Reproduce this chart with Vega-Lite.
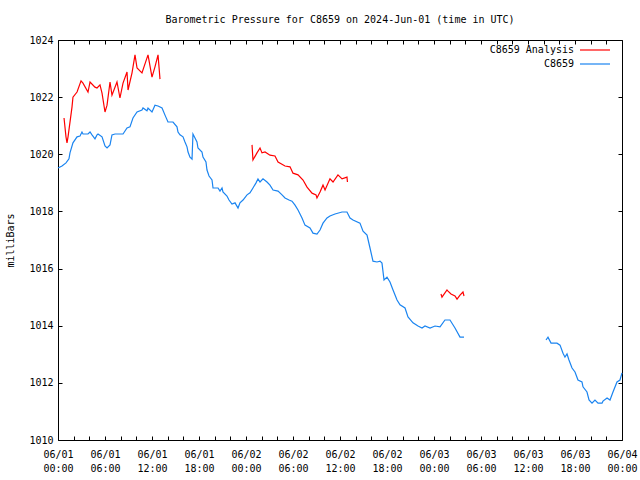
{
  "$schema": "https://vega.github.io/schema/vega-lite/v6.json",
  "width": 564,
  "height": 400,
  "autosize": "none",
  "padding": {"left": 58, "top": 40, "right": 18, "bottom": 40},
  "background": "white",
  "config": {
    "view": {"stroke": "black", "strokeWidth": 1},
    "font": "DejaVu Sans Mono",
    "axis": {"domain": false, "grid": false, "tickColor": "black", "labelColor": "black", "labelFont": "DejaVu Sans Mono", "labelFontSize": 10, "titleFont": "DejaVu Sans Mono", "titleFontSize": 10, "titleFontWeight": "normal", "titleColor": "black"},
    "legend": {"labelFont": "DejaVu Sans Mono", "labelFontSize": 10, "labelColor": "black"}
  },
  "title": {"text": "Barometric Pressure for C8659 on 2024-Jun-01 (time in UTC)", "font": "DejaVu Sans Mono", "fontSize": 10, "fontWeight": "normal", "color": "black", "anchor": "middle", "offset": 10},
  "datasets": {
    "pts": [
      {"series": "C8659", "seg": "b1", "hour": 0.00, "mb": 1019.52},
      {"series": "C8659", "seg": "b1", "hour": 0.51, "mb": 1019.59},
      {"series": "C8659", "seg": "b1", "hour": 1.02, "mb": 1019.70},
      {"series": "C8659", "seg": "b1", "hour": 1.40, "mb": 1019.84},
      {"series": "C8659", "seg": "b1", "hour": 1.53, "mb": 1020.05},
      {"series": "C8659", "seg": "b1", "hour": 1.91, "mb": 1020.40},
      {"series": "C8659", "seg": "b1", "hour": 2.43, "mb": 1020.61},
      {"series": "C8659", "seg": "b1", "hour": 2.81, "mb": 1020.64},
      {"series": "C8659", "seg": "b1", "hour": 3.06, "mb": 1020.78},
      {"series": "C8659", "seg": "b1", "hour": 3.19, "mb": 1020.71},
      {"series": "C8659", "seg": "b1", "hour": 3.83, "mb": 1020.71},
      {"series": "C8659", "seg": "b1", "hour": 4.09, "mb": 1020.78},
      {"series": "C8659", "seg": "b1", "hour": 4.34, "mb": 1020.68},
      {"series": "C8659", "seg": "b1", "hour": 4.72, "mb": 1020.54},
      {"series": "C8659", "seg": "b1", "hour": 4.98, "mb": 1020.68},
      {"series": "C8659", "seg": "b1", "hour": 5.11, "mb": 1020.71},
      {"series": "C8659", "seg": "b1", "hour": 5.62, "mb": 1020.61},
      {"series": "C8659", "seg": "b1", "hour": 6.00, "mb": 1020.29},
      {"series": "C8659", "seg": "b1", "hour": 6.26, "mb": 1020.22},
      {"series": "C8659", "seg": "b1", "hour": 6.64, "mb": 1020.33},
      {"series": "C8659", "seg": "b1", "hour": 6.89, "mb": 1020.68},
      {"series": "C8659", "seg": "b1", "hour": 7.28, "mb": 1020.71},
      {"series": "C8659", "seg": "b1", "hour": 8.30, "mb": 1020.71},
      {"series": "C8659", "seg": "b1", "hour": 8.81, "mb": 1020.92},
      {"series": "C8659", "seg": "b1", "hour": 9.19, "mb": 1020.96},
      {"series": "C8659", "seg": "b1", "hour": 9.57, "mb": 1021.27},
      {"series": "C8659", "seg": "b1", "hour": 10.09, "mb": 1021.48},
      {"series": "C8659", "seg": "b1", "hour": 10.72, "mb": 1021.55},
      {"series": "C8659", "seg": "b1", "hour": 10.85, "mb": 1021.62},
      {"series": "C8659", "seg": "b1", "hour": 11.36, "mb": 1021.52},
      {"series": "C8659", "seg": "b1", "hour": 11.49, "mb": 1021.62},
      {"series": "C8659", "seg": "b1", "hour": 12.00, "mb": 1021.48},
      {"series": "C8659", "seg": "b1", "hour": 12.38, "mb": 1021.72},
      {"series": "C8659", "seg": "b1", "hour": 12.77, "mb": 1021.69},
      {"series": "C8659", "seg": "b1", "hour": 13.28, "mb": 1021.62},
      {"series": "C8659", "seg": "b1", "hour": 13.66, "mb": 1021.37},
      {"series": "C8659", "seg": "b1", "hour": 14.04, "mb": 1021.13},
      {"series": "C8659", "seg": "b1", "hour": 14.68, "mb": 1021.13},
      {"series": "C8659", "seg": "b1", "hour": 15.19, "mb": 1020.96},
      {"series": "C8659", "seg": "b1", "hour": 15.32, "mb": 1020.78},
      {"series": "C8659", "seg": "b1", "hour": 15.57, "mb": 1020.68},
      {"series": "C8659", "seg": "b1", "hour": 15.96, "mb": 1020.61},
      {"series": "C8659", "seg": "b1", "hour": 16.21, "mb": 1020.43},
      {"series": "C8659", "seg": "b1", "hour": 16.47, "mb": 1020.26},
      {"series": "C8659", "seg": "b1", "hour": 16.60, "mb": 1020.08},
      {"series": "C8659", "seg": "b1", "hour": 16.85, "mb": 1019.90},
      {"series": "C8659", "seg": "b1", "hour": 17.11, "mb": 1019.83},
      {"series": "C8659", "seg": "b1", "hour": 17.23, "mb": 1020.71},
      {"series": "C8659", "seg": "b1", "hour": 17.49, "mb": 1020.57},
      {"series": "C8659", "seg": "b1", "hour": 17.74, "mb": 1020.43},
      {"series": "C8659", "seg": "b1", "hour": 17.87, "mb": 1020.22},
      {"series": "C8659", "seg": "b1", "hour": 18.38, "mb": 1020.08},
      {"series": "C8659", "seg": "b1", "hour": 18.51, "mb": 1019.90},
      {"series": "C8659", "seg": "b1", "hour": 18.89, "mb": 1019.73},
      {"series": "C8659", "seg": "b1", "hour": 19.02, "mb": 1019.45},
      {"series": "C8659", "seg": "b1", "hour": 19.28, "mb": 1019.24},
      {"series": "C8659", "seg": "b1", "hour": 19.66, "mb": 1019.10},
      {"series": "C8659", "seg": "b1", "hour": 19.79, "mb": 1018.82},
      {"series": "C8659", "seg": "b1", "hour": 20.43, "mb": 1018.82},
      {"series": "C8659", "seg": "b1", "hour": 20.68, "mb": 1018.71},
      {"series": "C8659", "seg": "b1", "hour": 20.94, "mb": 1018.82},
      {"series": "C8659", "seg": "b1", "hour": 21.06, "mb": 1018.68},
      {"series": "C8659", "seg": "b1", "hour": 21.57, "mb": 1018.54},
      {"series": "C8659", "seg": "b1", "hour": 21.83, "mb": 1018.40},
      {"series": "C8659", "seg": "b1", "hour": 22.21, "mb": 1018.26},
      {"series": "C8659", "seg": "b1", "hour": 22.60, "mb": 1018.30},
      {"series": "C8659", "seg": "b1", "hour": 22.98, "mb": 1018.12},
      {"series": "C8659", "seg": "b1", "hour": 23.23, "mb": 1018.30},
      {"series": "C8659", "seg": "b1", "hour": 23.62, "mb": 1018.40},
      {"series": "C8659", "seg": "b1", "hour": 24.13, "mb": 1018.58},
      {"series": "C8659", "seg": "b1", "hour": 24.51, "mb": 1018.65},
      {"series": "C8659", "seg": "b1", "hour": 24.89, "mb": 1018.82},
      {"series": "C8659", "seg": "b1", "hour": 25.28, "mb": 1019.00},
      {"series": "C8659", "seg": "b1", "hour": 25.53, "mb": 1019.14},
      {"series": "C8659", "seg": "b1", "hour": 25.79, "mb": 1019.03},
      {"series": "C8659", "seg": "b1", "hour": 26.17, "mb": 1019.14},
      {"series": "C8659", "seg": "b1", "hour": 26.68, "mb": 1019.03},
      {"series": "C8659", "seg": "b1", "hour": 27.06, "mb": 1018.92},
      {"series": "C8659", "seg": "b1", "hour": 27.45, "mb": 1018.75},
      {"series": "C8659", "seg": "b1", "hour": 28.09, "mb": 1018.71},
      {"series": "C8659", "seg": "b1", "hour": 28.60, "mb": 1018.58},
      {"series": "C8659", "seg": "b1", "hour": 28.98, "mb": 1018.47},
      {"series": "C8659", "seg": "b1", "hour": 29.49, "mb": 1018.40},
      {"series": "C8659", "seg": "b1", "hour": 29.87, "mb": 1018.36},
      {"series": "C8659", "seg": "b1", "hour": 30.26, "mb": 1018.22},
      {"series": "C8659", "seg": "b1", "hour": 30.64, "mb": 1018.05},
      {"series": "C8659", "seg": "b1", "hour": 31.15, "mb": 1017.77},
      {"series": "C8659", "seg": "b1", "hour": 31.53, "mb": 1017.52},
      {"series": "C8659", "seg": "b1", "hour": 32.17, "mb": 1017.42},
      {"series": "C8659", "seg": "b1", "hour": 32.55, "mb": 1017.24},
      {"series": "C8659", "seg": "b1", "hour": 33.06, "mb": 1017.21},
      {"series": "C8659", "seg": "b1", "hour": 33.45, "mb": 1017.35},
      {"series": "C8659", "seg": "b1", "hour": 33.83, "mb": 1017.59},
      {"series": "C8659", "seg": "b1", "hour": 34.34, "mb": 1017.77},
      {"series": "C8659", "seg": "b1", "hour": 34.72, "mb": 1017.84},
      {"series": "C8659", "seg": "b1", "hour": 35.36, "mb": 1017.91},
      {"series": "C8659", "seg": "b1", "hour": 36.26, "mb": 1017.98},
      {"series": "C8659", "seg": "b1", "hour": 36.89, "mb": 1017.98},
      {"series": "C8659", "seg": "b1", "hour": 37.28, "mb": 1017.77},
      {"series": "C8659", "seg": "b1", "hour": 37.66, "mb": 1017.70},
      {"series": "C8659", "seg": "b1", "hour": 38.55, "mb": 1017.59},
      {"series": "C8659", "seg": "b1", "hour": 38.94, "mb": 1017.31},
      {"series": "C8659", "seg": "b1", "hour": 39.45, "mb": 1017.17},
      {"series": "C8659", "seg": "b1", "hour": 39.83, "mb": 1016.72},
      {"series": "C8659", "seg": "b1", "hour": 40.21, "mb": 1016.26},
      {"series": "C8659", "seg": "b1", "hour": 40.72, "mb": 1016.23},
      {"series": "C8659", "seg": "b1", "hour": 41.11, "mb": 1016.26},
      {"series": "C8659", "seg": "b1", "hour": 41.36, "mb": 1016.19},
      {"series": "C8659", "seg": "b1", "hour": 41.62, "mb": 1015.60},
      {"series": "C8659", "seg": "b1", "hour": 42.00, "mb": 1015.70},
      {"series": "C8659", "seg": "b1", "hour": 42.38, "mb": 1015.53},
      {"series": "C8659", "seg": "b1", "hour": 42.77, "mb": 1015.25},
      {"series": "C8659", "seg": "b1", "hour": 43.28, "mb": 1014.90},
      {"series": "C8659", "seg": "b1", "hour": 43.66, "mb": 1014.73},
      {"series": "C8659", "seg": "b1", "hour": 44.30, "mb": 1014.62},
      {"series": "C8659", "seg": "b1", "hour": 44.68, "mb": 1014.31},
      {"series": "C8659", "seg": "b1", "hour": 45.32, "mb": 1014.10},
      {"series": "C8659", "seg": "b1", "hour": 45.96, "mb": 1013.99},
      {"series": "C8659", "seg": "b1", "hour": 46.47, "mb": 1013.92},
      {"series": "C8659", "seg": "b1", "hour": 46.85, "mb": 1013.99},
      {"series": "C8659", "seg": "b1", "hour": 47.49, "mb": 1013.92},
      {"series": "C8659", "seg": "b1", "hour": 48.13, "mb": 1013.99},
      {"series": "C8659", "seg": "b1", "hour": 48.77, "mb": 1013.96},
      {"series": "C8659", "seg": "b1", "hour": 49.40, "mb": 1014.20},
      {"series": "C8659", "seg": "b1", "hour": 50.04, "mb": 1014.20},
      {"series": "C8659", "seg": "b1", "hour": 50.68, "mb": 1013.92},
      {"series": "C8659", "seg": "b1", "hour": 51.32, "mb": 1013.60},
      {"series": "C8659", "seg": "b1", "hour": 51.83, "mb": 1013.60},
      {"series": "C8659", "seg": "b2", "hour": 62.30, "mb": 1013.50},
      {"series": "C8659", "seg": "b2", "hour": 62.55, "mb": 1013.60},
      {"series": "C8659", "seg": "b2", "hour": 62.94, "mb": 1013.39},
      {"series": "C8659", "seg": "b2", "hour": 63.70, "mb": 1013.39},
      {"series": "C8659", "seg": "b2", "hour": 64.09, "mb": 1013.32},
      {"series": "C8659", "seg": "b2", "hour": 64.47, "mb": 1013.04},
      {"series": "C8659", "seg": "b2", "hour": 64.72, "mb": 1012.90},
      {"series": "C8659", "seg": "b2", "hour": 64.98, "mb": 1013.01},
      {"series": "C8659", "seg": "b2", "hour": 65.23, "mb": 1012.80},
      {"series": "C8659", "seg": "b2", "hour": 65.62, "mb": 1012.52},
      {"series": "C8659", "seg": "b2", "hour": 66.00, "mb": 1012.38},
      {"series": "C8659", "seg": "b2", "hour": 66.38, "mb": 1012.10},
      {"series": "C8659", "seg": "b2", "hour": 66.89, "mb": 1012.03},
      {"series": "C8659", "seg": "b2", "hour": 67.02, "mb": 1011.86},
      {"series": "C8659", "seg": "b2", "hour": 67.53, "mb": 1011.68},
      {"series": "C8659", "seg": "b2", "hour": 67.79, "mb": 1011.40},
      {"series": "C8659", "seg": "b2", "hour": 68.17, "mb": 1011.29},
      {"series": "C8659", "seg": "b2", "hour": 68.55, "mb": 1011.40},
      {"series": "C8659", "seg": "b2", "hour": 68.94, "mb": 1011.29},
      {"series": "C8659", "seg": "b2", "hour": 69.45, "mb": 1011.29},
      {"series": "C8659", "seg": "b2", "hour": 69.57, "mb": 1011.36},
      {"series": "C8659", "seg": "b2", "hour": 70.09, "mb": 1011.47},
      {"series": "C8659", "seg": "b2", "hour": 70.47, "mb": 1011.40},
      {"series": "C8659", "seg": "b2", "hour": 70.85, "mb": 1011.68},
      {"series": "C8659", "seg": "b2", "hour": 71.36, "mb": 1012.03},
      {"series": "C8659", "seg": "b2", "hour": 71.74, "mb": 1012.10},
      {"series": "C8659", "seg": "b2", "hour": 72.00, "mb": 1012.35},
      {"series": "C8659 Analysis", "seg": "r1", "hour": 0.77, "mb": 1021.27},
      {"series": "C8659 Analysis", "seg": "r1", "hour": 1.02, "mb": 1020.61},
      {"series": "C8659 Analysis", "seg": "r1", "hour": 1.15, "mb": 1020.40},
      {"series": "C8659 Analysis", "seg": "r1", "hour": 1.28, "mb": 1020.61},
      {"series": "C8659 Analysis", "seg": "r1", "hour": 1.79, "mb": 1021.66},
      {"series": "C8659 Analysis", "seg": "r1", "hour": 1.91, "mb": 1022.00},
      {"series": "C8659 Analysis", "seg": "r1", "hour": 2.43, "mb": 1022.18},
      {"series": "C8659 Analysis", "seg": "r1", "hour": 2.94, "mb": 1022.57},
      {"series": "C8659 Analysis", "seg": "r1", "hour": 3.19, "mb": 1022.49},
      {"series": "C8659 Analysis", "seg": "r1", "hour": 3.83, "mb": 1022.18},
      {"series": "C8659 Analysis", "seg": "r1", "hour": 4.09, "mb": 1022.53},
      {"series": "C8659 Analysis", "seg": "r1", "hour": 4.72, "mb": 1022.35},
      {"series": "C8659 Analysis", "seg": "r1", "hour": 4.98, "mb": 1022.32},
      {"series": "C8659 Analysis", "seg": "r1", "hour": 5.36, "mb": 1022.43},
      {"series": "C8659 Analysis", "seg": "r1", "hour": 5.62, "mb": 1022.14},
      {"series": "C8659 Analysis", "seg": "r1", "hour": 6.00, "mb": 1021.48},
      {"series": "C8659 Analysis", "seg": "r1", "hour": 6.26, "mb": 1021.72},
      {"series": "C8659 Analysis", "seg": "r1", "hour": 6.64, "mb": 1022.53},
      {"series": "C8659 Analysis", "seg": "r1", "hour": 6.89, "mb": 1022.07},
      {"series": "C8659 Analysis", "seg": "r1", "hour": 7.53, "mb": 1022.53},
      {"series": "C8659 Analysis", "seg": "r1", "hour": 7.91, "mb": 1021.97},
      {"series": "C8659 Analysis", "seg": "r1", "hour": 8.30, "mb": 1022.49},
      {"series": "C8659 Analysis", "seg": "r1", "hour": 8.81, "mb": 1022.88},
      {"series": "C8659 Analysis", "seg": "r1", "hour": 8.94, "mb": 1022.25},
      {"series": "C8659 Analysis", "seg": "r1", "hour": 9.45, "mb": 1022.85},
      {"series": "C8659 Analysis", "seg": "r1", "hour": 9.83, "mb": 1023.48},
      {"series": "C8659 Analysis", "seg": "r1", "hour": 10.09, "mb": 1023.02},
      {"series": "C8659 Analysis", "seg": "r1", "hour": 10.72, "mb": 1022.85},
      {"series": "C8659 Analysis", "seg": "r1", "hour": 11.49, "mb": 1023.48},
      {"series": "C8659 Analysis", "seg": "r1", "hour": 12.00, "mb": 1022.70},
      {"series": "C8659 Analysis", "seg": "r1", "hour": 12.38, "mb": 1023.06},
      {"series": "C8659 Analysis", "seg": "r1", "hour": 12.77, "mb": 1023.48},
      {"series": "C8659 Analysis", "seg": "r1", "hour": 13.02, "mb": 1022.63},
      {"series": "C8659 Analysis", "seg": "r2", "hour": 24.77, "mb": 1020.33},
      {"series": "C8659 Analysis", "seg": "r2", "hour": 24.89, "mb": 1019.80},
      {"series": "C8659 Analysis", "seg": "r2", "hour": 25.40, "mb": 1020.05},
      {"series": "C8659 Analysis", "seg": "r2", "hour": 25.79, "mb": 1020.22},
      {"series": "C8659 Analysis", "seg": "r2", "hour": 26.04, "mb": 1020.05},
      {"series": "C8659 Analysis", "seg": "r2", "hour": 26.43, "mb": 1020.08},
      {"series": "C8659 Analysis", "seg": "r2", "hour": 27.06, "mb": 1019.97},
      {"series": "C8659 Analysis", "seg": "r2", "hour": 27.70, "mb": 1019.94},
      {"series": "C8659 Analysis", "seg": "r2", "hour": 28.09, "mb": 1019.73},
      {"series": "C8659 Analysis", "seg": "r2", "hour": 28.98, "mb": 1019.59},
      {"series": "C8659 Analysis", "seg": "r2", "hour": 29.62, "mb": 1019.56},
      {"series": "C8659 Analysis", "seg": "r2", "hour": 30.00, "mb": 1019.34},
      {"series": "C8659 Analysis", "seg": "r2", "hour": 30.64, "mb": 1019.28},
      {"series": "C8659 Analysis", "seg": "r2", "hour": 31.28, "mb": 1019.10},
      {"series": "C8659 Analysis", "seg": "r2", "hour": 31.79, "mb": 1018.85},
      {"series": "C8659 Analysis", "seg": "r2", "hour": 32.43, "mb": 1018.64},
      {"series": "C8659 Analysis", "seg": "r2", "hour": 32.94, "mb": 1018.58},
      {"series": "C8659 Analysis", "seg": "r2", "hour": 33.06, "mb": 1018.47},
      {"series": "C8659 Analysis", "seg": "r2", "hour": 33.45, "mb": 1018.68},
      {"series": "C8659 Analysis", "seg": "r2", "hour": 33.83, "mb": 1018.92},
      {"series": "C8659 Analysis", "seg": "r2", "hour": 34.09, "mb": 1018.75},
      {"series": "C8659 Analysis", "seg": "r2", "hour": 34.72, "mb": 1019.14},
      {"series": "C8659 Analysis", "seg": "r2", "hour": 35.11, "mb": 1019.03},
      {"series": "C8659 Analysis", "seg": "r2", "hour": 35.74, "mb": 1019.28},
      {"series": "C8659 Analysis", "seg": "r2", "hour": 36.26, "mb": 1019.14},
      {"series": "C8659 Analysis", "seg": "r2", "hour": 36.89, "mb": 1019.20},
      {"series": "C8659 Analysis", "seg": "r2", "hour": 36.95, "mb": 1019.03},
      {"series": "C8659 Analysis", "seg": "r3", "hour": 48.89, "mb": 1015.11},
      {"series": "C8659 Analysis", "seg": "r3", "hour": 49.02, "mb": 1015.00},
      {"series": "C8659 Analysis", "seg": "r3", "hour": 49.66, "mb": 1015.25},
      {"series": "C8659 Analysis", "seg": "r3", "hour": 49.79, "mb": 1015.21},
      {"series": "C8659 Analysis", "seg": "r3", "hour": 50.17, "mb": 1015.11},
      {"series": "C8659 Analysis", "seg": "r3", "hour": 50.68, "mb": 1015.04},
      {"series": "C8659 Analysis", "seg": "r3", "hour": 50.94, "mb": 1014.93},
      {"series": "C8659 Analysis", "seg": "r3", "hour": 51.32, "mb": 1015.07},
      {"series": "C8659 Analysis", "seg": "r3", "hour": 51.70, "mb": 1015.18},
      {"series": "C8659 Analysis", "seg": "r3", "hour": 51.83, "mb": 1015.04}
    ]
  },
  "data": {"name": "pts"},
  "layer": [
    {
      "mark": {"type": "line", "strokeWidth": 1.2, "interpolate": "linear"},
      "encoding": {
        "x": {"field": "hour", "type": "quantitative", "scale": {"domain": [0, 72], "nice": false, "zero": false},
          "axis": {"orient": "bottom", "title": null, "values": [0,2,4,6,8,10,12,14,16,18,20,22,24,26,28,30,32,34,36,38,40,42,44,46,48,50,52,54,56,58,60,62,64,66,68,70,72],
            "tickSize": -4, "labelPadding": 13, "labelLineHeight": 14, "labelAlign": "center", "labelFlush": false, "labelOverlap": false,
            "labelExpr": "datum.value % 6 == 0 ? ['06/0' + (1 + floor(datum.value / 24)), ((datum.value % 24) < 10 ? '0' : '') + (datum.value % 24) + ':00'] : ''"}},
        "y": {"field": "mb", "type": "quantitative", "scale": {"domain": [1010, 1024], "nice": false, "zero": false},
          "axis": {"orient": "left", "title": "milliBars", "values": [1010,1012,1014,1016,1018,1020,1022,1024], "format": "d",
            "tickSize": -4, "labelPadding": 9, "labelFlush": false, "labelOverlap": false, "titleX": -48, "titleY": 200, "titleAngle": -90, "titleAlign": "center", "titleBaseline": "middle"}},
        "color": {"field": "series", "type": "nominal",
          "scale": {"domain": ["C8659 Analysis", "C8659"], "range": ["#ff0000", "#1a84f0"]},
          "legend": {"title": null, "orient": "none", "legendX": 531, "legendY": 4, "symbolType": "M-3,0H3", "symbolSize": 100, "symbolStrokeWidth": 1.2, "symbolFillColor": "transparent", "labelAlign": "right", "labelOffset": -27, "rowPadding": 3}},
        "detail": {"field": "seg", "type": "nominal"}
      }
    },
    {
      "mark": {"type": "line", "strokeWidth": 0, "opacity": 0},
      "encoding": {
        "x": {"field": "hour", "type": "quantitative",
          "axis": {"orient": "top", "title": null, "labels": false, "values": [0,2,4,6,8,10,12,14,16,18,20,22,24,26,28,30,32,34,36,38,40,42,44,46,48,50,52,54,56,58,60,62,64,66,68,70,72], "tickSize": -4}},
        "y": {"field": "mb", "type": "quantitative",
          "axis": {"orient": "right", "title": null, "labels": false, "values": [1010,1012,1014,1016,1018,1020,1022,1024], "tickSize": -4}},
        "detail": {"field": "seg", "type": "nominal"}
      }
    }
  ],
  "resolve": {"axis": {"x": "independent", "y": "independent"}}
}
